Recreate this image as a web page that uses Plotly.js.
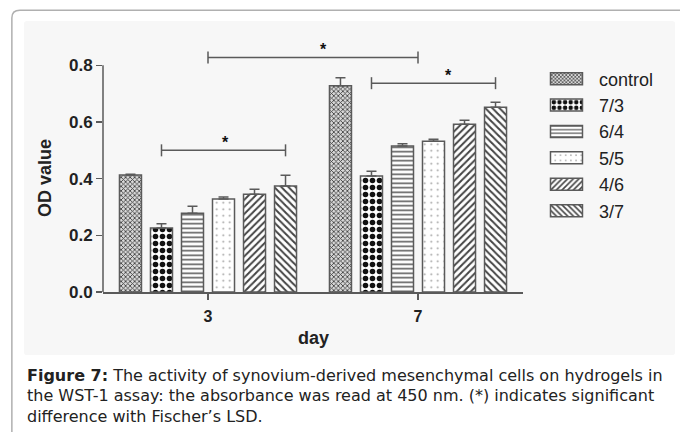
<!DOCTYPE html>
<html>
<head>
<meta charset="utf-8">
<script src="https://cdn.plot.ly/plotly-3.0.1.min.js"></script>
<style>html,body{margin:0;padding:0;background:#fff;}#chart{width:680px;height:432px;}</style>
</head>
<body>
<div id="chart"></div>
<script>
// ---- data ----
const days = ['3', '7'];
const groups = ['control', '7/3', '6/4', '5/5', '4/6', '3/7'];
const control = [0.413, 0.728];
const g73 = [0.226, 0.409];
const g64 = [0.278, 0.515];
const g55 = [0.328, 0.532];
const g46 = [0.345, 0.592];
const g37 = [0.374, 0.652];
const errControl = [0.003, 0.028];
const err73 = [0.015, 0.017];
const err64 = [0.025, 0.008];
const err55 = [0.007, 0.007];
const err46 = [0.018, 0.014];
const err37 = [0.038, 0.018];
const yTicks = [0, 0.2, 0.4, 0.6, 0.8];
// significance brackets: [day, barIndex] (barIndex -1 = group centre), level, star position
const bracketFrom = [[0, -1], [0, 1], [1, 1]];
const bracketTo = [[1, -1], [0, 5], [1, 5]];
const bracketLevel = [0.828, 0.50, 0.737];
const starX = [0.552, 0.081, 1.143];
const captionLines = [
  '<b>Figure 7:</b> The activity of synovium-derived mesenchymal cells on hydrogels in',
  'the WST-1 assay: the absorbance was read at 450 nm. (*) indicates significant',
  'difference with Fischer\u2019s LSD.'
];

const values = [control, g73, g64, g55, g46, g37];
const errs = [errControl, err73, err64, err55, err46, err37];
const patterns = [
  {shape: 'x', fgcolor: '#3a3a3a', bgcolor: '#d8d8d8', size: 3.2, solidity: 0.45, fillmode: 'replace'},
  {shape: '.', fgcolor: '#111111', bgcolor: '#ffffff', size: 7, solidity: 0.5, fillmode: 'replace'},
  {shape: '-', fgcolor: '#5a5a5a', bgcolor: '#ffffff', size: 4.5, solidity: 0.35, fillmode: 'replace'},
  {shape: '.', fgcolor: '#a0a0a0', bgcolor: '#ffffff', size: 6.5, solidity: 0.07, fillmode: 'replace'},
  {shape: '/', fgcolor: '#444444', bgcolor: '#ffffff', size: 5, solidity: 0.4, fillmode: 'replace'},
  {shape: '\\', fgcolor: '#444444', bgcolor: '#ffffff', size: 5, solidity: 0.4, fillmode: 'replace'}
];
const xNum = days.map((d, i) => i);
const bargap = 0.114;
const FONT = 'Liberation Sans, Arial, sans-serif';
const CAPFONT = 'DejaVu Sans, sans-serif';
const LINE = '#5a5a5a';

const traces = groups.map((g, k) => ({
  type: 'bar', name: g, x: xNum, y: values[k],
  marker: {color: patterns[k].bgcolor, line: {color: LINE, width: 1.5}, pattern: patterns[k]},
  error_y: {type: 'data', symmetric: false, array: errs[k], arrayminus: [0, 0], color: LINE, thickness: 1.5, width: 5},
  hoverinfo: 'skip'
}));

function barCenter(day, bar) {
  if (bar < 0) return day;
  const gw = 1 - bargap, slot = gw / groups.length;
  return day - gw / 2 + (bar + 0.5) * slot;
}

const shapes = [];
// background panel (slightly rounded corners)
shapes.push({type: 'path', xref: 'paper', yref: 'paper', layer: 'below', fillcolor: '#f7f7f7', line: {width: 0},
  path: 'M-0.181,-0.247 L1.355,-0.247 Q1.362,-0.247 1.362,-0.236 L1.362,1.052 Q1.362,1.063 1.355,1.063 ' +
        'L-0.181,1.063 Q-0.188,1.063 -0.188,1.052 L-0.188,-0.236 Q-0.188,-0.247 -0.181,-0.247 Z'});
// outer rounded frame
shapes.push({type: 'path', xref: 'paper', yref: 'paper', layer: 'below',
  path: 'M-0.217,-0.6 L-0.217,1.075 Q-0.217,1.105 -0.198,1.105 L1.45,1.105',
  line: {color: '#b0b0b0', width: 1.5}});
// y axis line (0 to 0.8)
shapes.push({type: 'line', xref: 'paper', yref: 'y', x0: 0, x1: 0, y0: yTicks[0], y1: yTicks[yTicks.length - 1],
  line: {color: LINE, width: 1.5}});
const annotations = [];
bracketLevel.forEach((lv, i) => {
  const xa = barCenter(bracketFrom[i][0], bracketFrom[i][1]);
  const xb = barCenter(bracketTo[i][0], bracketTo[i][1]);
  shapes.push({type: 'line', xref: 'x', yref: 'y', x0: xa, x1: xb, y0: lv, y1: lv, line: {color: LINE, width: 1.5}});
  [xa, xb].forEach(xx => shapes.push({type: 'line', xref: 'x', yref: 'y', ysizemode: 'pixel', yanchor: lv,
    x0: xx, x1: xx, y0: -6, y1: 6, line: {color: LINE, width: 1.5}}));
  annotations.push({xref: 'x', yref: 'y', x: starX[i], y: lv, yshift: 8, text: '<b>*</b>', showarrow: false,
    font: {family: FONT, size: 16, color: '#111'}});
});
// axis titles
annotations.push({xref: 'paper', yref: 'paper', x: -0.138, y: 0.447, xanchor: 'center', yanchor: 'middle',
  textangle: -90, showarrow: false,
  text: '<b>OD value</b>', font: {family: FONT, size: 18, color: '#222'}});
annotations.push({xref: 'paper', yref: 'paper', x: 0.5, y: -0.18, xanchor: 'center', yanchor: 'middle', showarrow: false,
  text: '<b>day</b>', font: {family: FONT, size: 18, color: '#222'}});
// caption
captionLines.forEach((t, i) => {
  annotations.push({xref: 'paper', yref: 'paper', x: -0.186, y: -0.326 - i * 0.0812, xanchor: 'left', yanchor: 'middle',
    align: 'left', showarrow: false, font: {family: CAPFONT, size: 16, color: '#222'}, text: t});
});

const layout = {
  width: 680, height: 432,
  margin: {l: 103, r: 157, t: 37, b: 140},
  paper_bgcolor: '#ffffff', plot_bgcolor: 'rgba(0,0,0,0)',
  barmode: 'group', bargap: bargap, bargroupgap: 0.29,
  font: {family: FONT, color: '#222'},
  showlegend: true,
  legend: {x: 1.0595, y: 0.908, xanchor: 'left', yanchor: 'top', bgcolor: 'rgba(0,0,0,0)',
    font: {family: FONT, size: 18, color: '#222'}, itemwidth: 41, traceorder: 'normal'},
  xaxis: {range: [-0.5, 1.5], tickvals: xNum, ticktext: days, showline: true, linecolor: LINE, linewidth: 1.5,
    ticks: 'outside', ticklen: 6, tickcolor: LINE, tickwidth: 1.5, showgrid: false, zeroline: false,
    ticklabelstandoff: 3,
    tickfont: {family: FONT, size: 16, color: '#222', weight: 'bold'}},
  yaxis: {range: [0, 0.9], tickvals: yTicks, ticktext: yTicks.map(v => v.toFixed(1)), showline: false,
    ticks: 'outside', ticklen: 6, tickcolor: LINE, tickwidth: 1.5, showgrid: false, zeroline: false,
    tickfont: {family: FONT, size: 17, color: '#222', weight: 'bold'}},
  shapes: shapes, annotations: annotations
};

Plotly.newPlot('chart', traces, layout, {staticPlot: true, displayModeBar: false}).then(gd => {
  // widen legend swatches to rectangles placed just left of their labels
  gd.querySelectorAll('.legend .traces').forEach(tr => {
    const txt = tr.querySelector('.legendtext');
    const p = tr.querySelector('.legendpoints path');
    if (!txt || !p) return;
    const tb = txt.getBoundingClientRect();
    const pb = p.getBoundingClientRect();
    const cx = (pb.left + pb.right) / 2;
    const right = Math.round(tb.left - 17 - cx);
    const left = right - 32;
    p.setAttribute('d', 'M' + right + ',6H' + left + 'V-6H' + right + 'Z');
  });
});
</script>
</body>
</html>
